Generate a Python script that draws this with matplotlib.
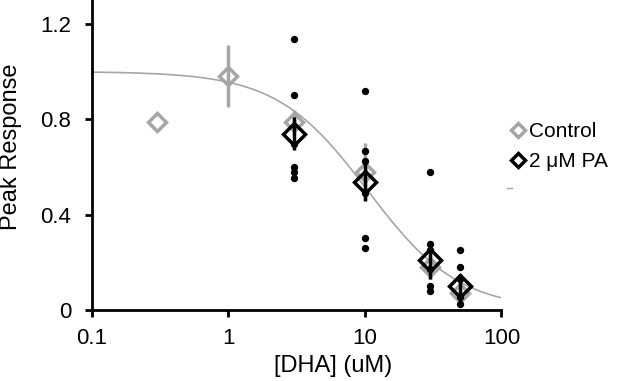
import matplotlib.pyplot as plt
from matplotlib.lines import Line2D
import numpy as np

plt.rcParams['font.family'] = ['Liberation Sans', 'DejaVu Sans']

# control means (grey)
ctrl_x = [0.3, 1, 3, 10, 30, 50]
ctrl_y = [0.79, 0.98, 0.79, 0.58, 0.18, 0.07]
ctrl_err = [0.0, 0.13, 0.05, 0.12, 0.05, 0.03]

# 2 uM PA means (black)
pa_x = [3, 10, 30, 50]
pa_y = [0.74, 0.535, 0.21, 0.10]
pa_err = [0.07, 0.08, 0.08, 0.05]

# individual PA cells
pts_x = [3, 3, 3, 3, 3, 3,
         10, 10, 10, 10, 10, 10,
         30, 30, 30, 30, 30, 30,
         50, 50, 50, 50, 50]
pts_y = [1.137, 0.902, 0.697, 0.601, 0.577, 0.552,
         0.917, 0.665, 0.626, 0.489, 0.30, 0.259,
         0.577, 0.276, 0.25, 0.17, 0.10, 0.08,
         0.252, 0.182, 0.13, 0.055, 0.024]

# Hill fit
ic50 = 10.5
hill_n = 1.3

xticks = [0.1, 1, 10, 100]
xticklabels = ['0.1', '1', '10', '100']
yticks = [0, 0.4, 0.8, 1.2]
yticklabels = ['0', '0.4', '0.8', '1.2']

grey = '#a6a6a6'

fig = plt.figure(figsize=(6.17, 3.81), dpi=100)
ax = fig.add_axes([0.1491, 0.1864, 0.6637, 0.8136])

xc = np.logspace(-1, 2, 300)
ax.plot(xc, 1 / (1 + (xc / ic50) ** hill_n), color=grey, lw=1.2, zorder=1)

ax.errorbar(ctrl_x, ctrl_y, yerr=ctrl_err, fmt='D', ms=9.5, mfc='none',
            mec=grey, mew=2.5, ecolor=grey, elinewidth=2.5, capsize=0,
            zorder=2)
ax.scatter(pts_x, pts_y, s=28, color='black', zorder=3, lw=0)
ax.errorbar(pa_x, pa_y, yerr=pa_err, fmt='D', ms=11, mfc='none',
            mec='black', mew=2.5, ecolor='black', elinewidth=2.5, capsize=0,
            zorder=4)

ax.set_xscale('log')
ax.set_xlim(0.1, 100)
ax.set_ylim(0, 1.30)
ax.set_xticks(xticks)
ax.set_xticklabels(xticklabels)
ax.minorticks_off()
ax.set_yticks(yticks)
ax.set_yticklabels(yticklabels)

for s in ['top', 'right']:
    ax.spines[s].set_visible(False)
for s in ['left', 'bottom']:
    ax.spines[s].set_linewidth(2)
ax.tick_params(width=2, length=5, labelsize=16)
ax.tick_params(axis='x', pad=8)
ax.tick_params(axis='y', pad=10)

ax.set_xlabel('[DHA] (uM)', fontsize=17)
ax.xaxis.set_label_coords(0.59, -0.145)
ax.set_ylabel('Peak Response', fontsize=17)
ax.yaxis.set_label_coords(-0.17, 0.526)

handles = [
    Line2D([], [], marker='D', ls='none', ms=7, mfc='none', mec=grey, mew=2.5),
    Line2D([], [], marker='D', ls='none', ms=7, mfc='none', mec='black', mew=2.5),
]
fig.legend(handles, ['Control', '2 \u03bcM PA'], loc='center left',
           bbox_to_anchor=(0.826, 0.615), frameon=False, fontsize=15,
           handlelength=0.8, handletextpad=0.15, labelspacing=0.5,
           borderpad=0, borderaxespad=0)
# stray dash under the legend
fig.add_artist(Line2D([0.822, 0.830], [0.507, 0.507], color=grey, lw=1))

fig.savefig('out.png', dpi=100)
